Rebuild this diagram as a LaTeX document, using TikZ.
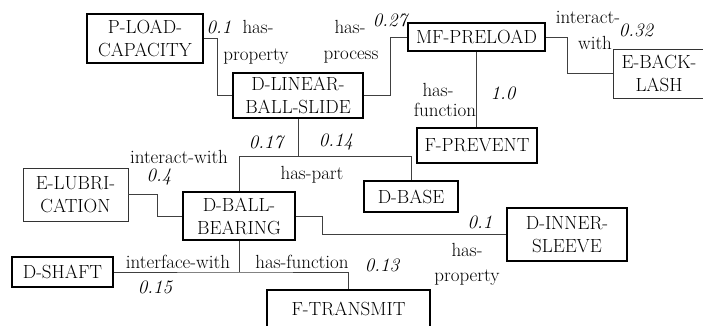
\documentclass[tikz,border=0pt]{standalone}
\usepackage{fontspec}

\tikzset{
  concept/.style={draw, line width=1.8pt, inner sep=0pt, align=center,
    font=\fontsize{19}{23}\selectfont},
  envbox/.style={concept, line width=0.9pt, draw=black!80},
  rel/.style={inner sep=0pt, font=\fontsize{19}{23}\selectfont},
  wt/.style={inner sep=0pt, font=\fontsize{19}{23}\selectfont\itshape},
  link/.style={draw=black!75, line width=0.9pt},
}

\begin{document}
\begin{tikzpicture}[x=1pt,y=-1pt]
\useasboundingbox (0,0) rectangle (703,325);
\clip (0,0) rectangle (703,325);

% the concepts
\node[concept, minimum width=116, minimum height=49] (pload) at (145,38.5) {P-LOAD-\\CAPACITY};
\node[concept, minimum width=130, minimum height=45] (slide) at (298,95.5) {D-LINEAR-\\BALL-SLIDE};
\node[concept, minimum width=137, minimum height=28] (preload) at (476.5,37) {MF-PRELOAD};
\node[envbox, minimum width=92, minimum height=49] (backlash) at (659,73.5) {E-BACK-\\LASH};
\node[concept, minimum width=120, minimum height=35] (prevent) at (477,145.5) {F-PREVENT};
\node[envbox, minimum width=105, minimum height=53] (lubri) at (75.5,194.5) {E-LUBRI-\\CATION};
\node[concept, minimum width=112, minimum height=48] (bearing) at (239,216) {D-BALL-\\BEARING};
\node[concept, minimum width=94, minimum height=31] (base) at (411,196.5) {D-BASE};
\node[concept, minimum width=120, minimum height=53] (sleeve) at (567,234.5) {D-INNER-\\SLEEVE};
\node[concept, minimum width=101, minimum height=30] (shaft) at (62.5,272) {D-SHAFT};
\node[concept, minimum width=163, minimum height=38] (transmit) at (348.5,309) {F-TRANSMIT};

% the links
\draw[link] (pload.east) -- ++(14,0) |- (slide.west);
\draw[link] (slide.east) -- ++(27,0) |- (preload.west);
\draw[link] (preload.east) -- ++(22,0) |- (backlash.west);
\draw[link] (preload.south) -- (preload.south |- prevent.north);
\draw[link] (slide.south) -- ++(0,38) coordinate (partjoin);
\draw[link] (bearing.north) |- (partjoin) -| (base.north);
\draw[link] (lubri.east) -- ++(29,0) |- (bearing.west);
\draw[link] (bearing.east) -- ++(27,0) |- (sleeve.west);
\draw[link] (bearing.south) -- (bearing.south |- shaft.east) coordinate (funcjoin);
\draw[link] (shaft.east) -- (funcjoin) -| (transmit.north);

% weights
\foreach \lname/\x/\y/\txt in {w1/219/27/0.1, w2/390/20/0.27, w3/503/93/1.0,
    w4/636/30/0.32, w5/266/142/0.17, w6/336/142/0.14, w7/159/177/0.4,
    w8/155/287/0.15, w9/382/265/0.13, w10/480/222/0.1}{
    \node[wt] (\lname) at (\x,\y) {\txt};
}

% relation names
\foreach \lname/\x/\y/\txt in {r1/258/27/has-, r2/256/57/property,
    r3/350/27/has-, r4/351/57/process, r5/438/90/has-, r6/445/110/function,
    r7/588/17/interact-, r8/595/43/with, r9/179/157/interact-with,
    r10/312/175/has-part, r11/178/262/interface-with, r12/302/262/has-function,
    r13/467/250/has-, r14/467/278/property}{
    \node[rel] (\lname) at (\x,\y) {\txt};
}

\end{tikzpicture}
\end{document}
